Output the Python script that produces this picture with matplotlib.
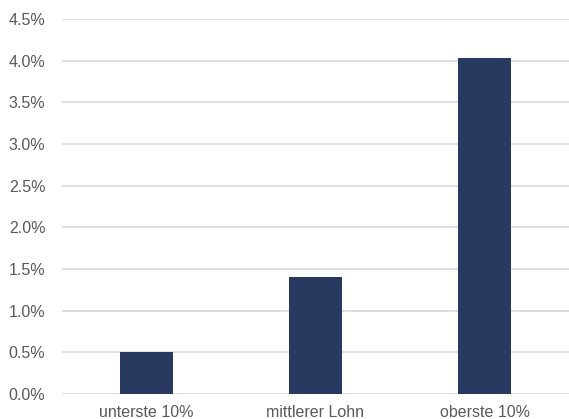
import matplotlib
matplotlib.use("Agg")
import matplotlib.pyplot as plt
from matplotlib.ticker import FuncFormatter

plt.rcParams['font.family'] = ['Liberation Sans', 'DejaVu Sans']

categories = ['unterste 10%', 'mittlerer Lohn', 'oberste 10%']
values = [0.50, 1.40, 4.03]
yticks = [0.0, 0.5, 1.0, 1.5, 2.0, 2.5, 3.0, 3.5, 4.0, 4.5]

fig = plt.figure(figsize=(5.69, 4.19), dpi=100)
ax = fig.add_axes([62 / 569, 25 / 419, 1 - 62 / 569, 375 / 419])

ax.bar(range(len(categories)), values, width=0.31, color='#283a60', zorder=3)

ax.set_xlim(-0.5, 2.5)
ax.set_ylim(0, 4.5)
ax.set_yticks(yticks)
ax.yaxis.set_major_formatter(FuncFormatter(lambda v, p: f'{v:.1f}%'))
ax.set_xticks(range(len(categories)))
ax.set_xticklabels(categories)
ax.grid(axis='y', color='#d9d9d9', linewidth=1.2, zorder=0)
ax.tick_params(length=0, labelsize=11.5, colors='#595959', pad=12)
ax.tick_params(axis='x', pad=8)
for s in ax.spines.values():
    s.set_visible(False)

fig.savefig('out.png', dpi=100)
